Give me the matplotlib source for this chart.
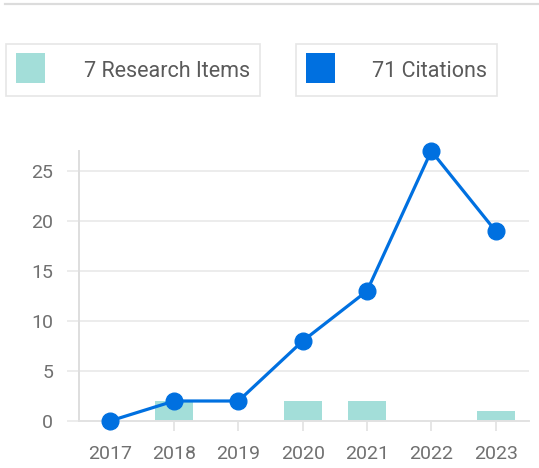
import matplotlib.pyplot as plt
from matplotlib.patches import Rectangle
from matplotlib.lines import Line2D

plt.rcParams['font.family'] = ['Roboto', 'DejaVu Sans']

years = ['2017', '2018', '2019', '2020', '2021', '2022', '2023']
research_items = [0, 2, 0, 2, 2, 0, 1]
citations = [0, 2, 2, 8, 13, 27, 19]
yticks = [0, 5, 10, 15, 20, 25]

teal = '#a3ded9'
blue = '#0070e0'
grid_gray = '#ececec'
text_gray = '#707070'

W, H = 539, 468
fig = plt.figure(figsize=(W / 100, H / 100), dpi=100)

# top separator line
fig.add_artist(Line2D([5 / W, 1], [1 - 4 / H, 1 - 4 / H], color='#dcdcdc', lw=1.6))

# legend boxes, drawn by hand like the widget
def legend_box(x0, x1, color, label):
    y0, y1 = 44, 96
    fig.add_artist(Rectangle((x0 / W, 1 - y1 / H), (x1 - x0) / W, (y1 - y0) / H,
                             facecolor='white', edgecolor='#e6e6e6', lw=1.2))
    fig.add_artist(Rectangle(((x0 + 10) / W, 1 - 83 / H), 29 / W, 30 / H,
                             facecolor=color, edgecolor='none'))
    fig.text((x1 - 10) / W, 1 - 69 / H, label, ha='right', va='center_baseline',
             fontsize=15.5, color='#5a5a5a')

legend_box(6, 260, teal, f'{sum(research_items)} Research Items')
legend_box(296, 497, blue, f'{sum(citations)} Citations')

ax = fig.add_axes([79 / W, 1 - 421 / H, (529 - 79) / W, (421 - 151) / H])
x = list(range(len(years)))

ax.bar(x, research_items, width=0.59, color=teal, zorder=2)
ax.plot(x, citations, color=blue, lw=2.3, marker='o', markersize=12,
        zorder=3, clip_on=False)

ax.set_xlim(-0.48, 6.52)
ax.set_ylim(0, 27)
ax.set_xticks(x)
ax.set_xticklabels(years)
ax.set_yticks(yticks)

ax.grid(axis='y', color=grid_gray, lw=1.4, zorder=0)
for side in ['top', 'right']:
    ax.spines[side].set_visible(False)
ax.spines['left'].set_color('#dedede')
ax.spines['left'].set_linewidth(1.4)
ax.spines['bottom'].set_color('#e2e2e2')
ax.spines['bottom'].set_linewidth(1.4)

ax.tick_params(axis='y', length=8.6, width=1.4, color=grid_gray, pad=10,
               labelsize=14, labelcolor=text_gray)
ax.tick_params(axis='x', length=7.5, width=1.2, color='#e2e2e2', pad=10,
               labelsize=14, labelcolor=text_gray)

fig.savefig('out.png', dpi=100)
